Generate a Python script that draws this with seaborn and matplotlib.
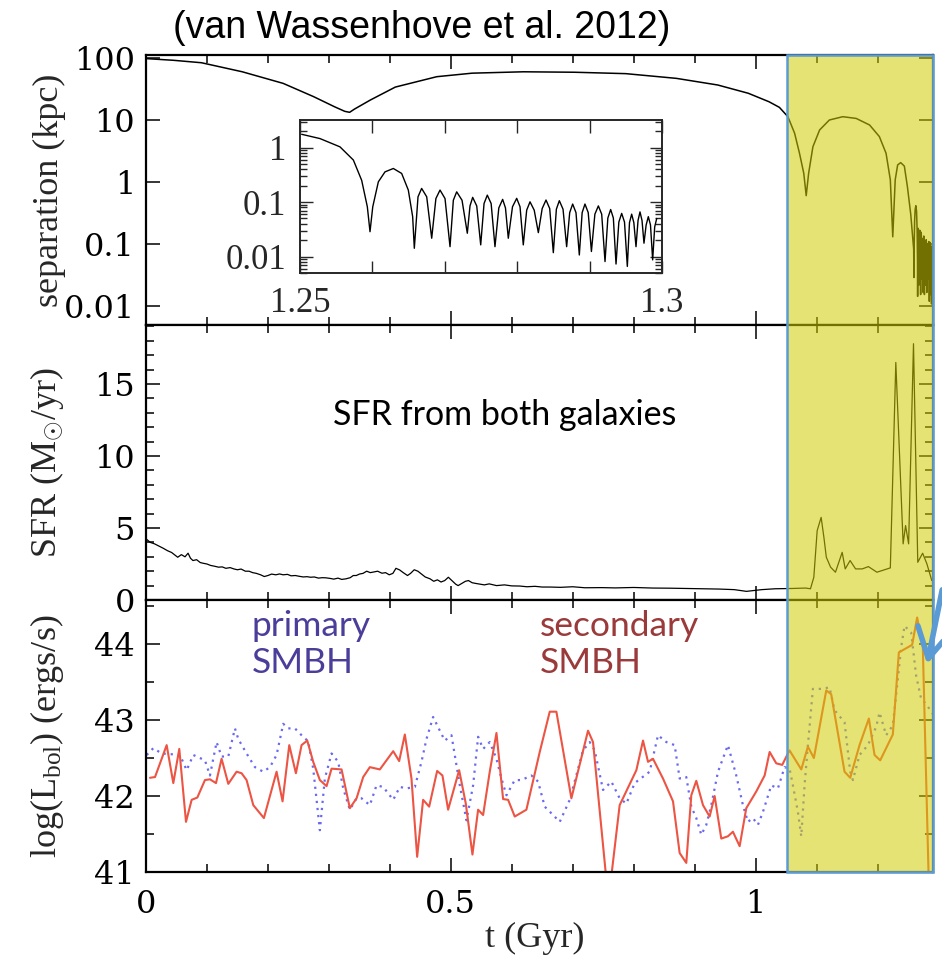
import numpy as np
import pandas as pd
import matplotlib
matplotlib.use("Agg")
import matplotlib.pyplot as plt
import seaborn as sns
from matplotlib.patches import Rectangle, FancyArrowPatch
from matplotlib.ticker import FixedLocator, NullFormatter, LogLocator, MultipleLocator, FixedFormatter

# ---------------- data ----------------
# separation of the two SMBHs, main panel (kpc), t in Gyr
sep_t = [0.000, 0.045, 0.091, 0.158, 0.225, 0.275, 0.309, 0.326, 0.334, 0.342, 0.368,
         0.409, 0.477, 0.535, 0.619, 0.703, 0.787, 0.870, 0.938, 0.988, 1.022, 1.039,
         1.053, 1.064, 1.072, 1.079, 1.083, 1.087, 1.094, 1.105, 1.121, 1.143, 1.165,
         1.187, 1.203, 1.214, 1.221, 1.225, 1.229, 1.233, 1.238, 1.244, 1.249, 1.2545]
sep_kpc = [98, 92, 84, 60, 39, 23.8, 16.4, 13.8, 13.3, 15.0, 21,
           34, 50, 57, 60, 59, 56, 47, 36.7, 27, 19.7, 16,
           11.3, 6.1, 2.9, 1.38, 0.6, 1.38, 3.7, 6.9, 10, 11.3, 10.6,
           8.3, 5.4, 2.9, 1.08, 0.13, 1.08, 1.88, 2.05, 1.8, 0.84, 0.3]

# inset: zoom on the last orbits (same quantity)
inset_t = [1.25023, 1.25276, 1.25552, 1.25737, 1.25852, 1.2593, 1.25967, 1.26005, 1.26082,
           1.26174, 1.26289, 1.26404, 1.26496, 1.26556, 1.26579, 1.26630, 1.26680, 1.26750,
           1.26819, 1.26877, 1.26934, 1.27003, 1.27072, 1.27118, 1.27164, 1.27238, 1.27311,
           1.27348, 1.27385, 1.27441, 1.27496, 1.27542, 1.27587, 1.27640, 1.27693, 1.27746,
           1.27799, 1.27838, 1.27877, 1.27935, 1.27993, 1.28039, 1.28084, 1.28131, 1.28177,
           1.28235, 1.28292, 1.28345, 1.28398, 1.28449, 1.28499, 1.28541, 1.28582, 1.28633,
           1.28683, 1.28725, 1.28766, 1.28812, 1.28858, 1.28897, 1.28936, 1.28981, 1.29025,
           1.29073, 1.29121, 1.29167, 1.29213, 1.29252, 1.29291, 1.29328, 1.29365, 1.29404,
           1.29443, 1.29482, 1.29521, 1.29551, 1.29581, 1.29611, 1.29641, 1.29669, 1.29696,
           1.29724, 1.29751, 1.29781, 1.29811, 1.29841, 1.29871, 1.29899, 1.29927]
inset_kpc = [1.75, 1.46, 1.03, 0.59, 0.25, 0.082, 0.0286, 0.082, 0.235,
             0.358, 0.413, 0.335, 0.166, 0.054, 0.0142, 0.125, 0.178, 0.125,
             0.0217, 0.116, 0.166, 0.116, 0.0152, 0.108, 0.154, 0.108, 0.0268,
             0.085, 0.122, 0.085, 0.0164, 0.094, 0.134, 0.094, 0.0152, 0.078,
             0.112, 0.078, 0.0217, 0.082, 0.117, 0.082, 0.0164, 0.071, 0.101,
             0.071, 0.0275, 0.076, 0.109, 0.076, 0.0118, 0.074, 0.106, 0.074,
             0.0152, 0.064, 0.092, 0.064, 0.0107, 0.064, 0.092, 0.064, 0.0124,
             0.060, 0.085, 0.060, 0.0081, 0.051, 0.073, 0.051, 0.0073, 0.043,
             0.062, 0.043, 0.0066, 0.042, 0.060, 0.042, 0.0152, 0.046, 0.066,
             0.046, 0.0176, 0.038, 0.054, 0.038, 0.0087, 0.035, 0.050]

# star formation rate from both galaxies (Msun/yr)
sfr_t = [0.000, 0.007, 0.014, 0.021, 0.028, 0.035, 0.042, 0.048, 0.052, 0.058, 0.064, 0.069,
         0.073, 0.077, 0.083, 0.089, 0.094, 0.100, 0.106, 0.112, 0.119, 0.125, 0.131, 0.138,
         0.144, 0.150, 0.156, 0.163, 0.169, 0.175, 0.181, 0.188, 0.194, 0.200, 0.206, 0.213,
         0.219, 0.225, 0.232, 0.238, 0.245, 0.251, 0.258, 0.264, 0.270, 0.276, 0.283, 0.289,
         0.295, 0.302, 0.308, 0.315, 0.321, 0.328, 0.335, 0.340, 0.345, 0.350, 0.356, 0.362,
         0.368, 0.374, 0.380, 0.387, 0.393, 0.399, 0.405, 0.410, 0.416, 0.422, 0.429, 0.434,
         0.440, 0.446, 0.452, 0.458, 0.466, 0.472, 0.478, 0.484, 0.490, 0.496, 0.503, 0.508,
         0.512, 0.518, 0.524, 0.529, 0.535, 0.541, 0.548, 0.555, 0.563, 0.575, 0.588, 0.600,
         0.613, 0.625, 0.638, 0.650, 0.663, 0.680, 0.700, 0.720, 0.747, 0.770, 0.800, 0.831,
         0.860, 0.890, 0.914, 0.940, 0.965, 0.985, 0.998, 1.010, 1.032, 1.060, 1.082, 1.090,
         1.0955, 1.101, 1.1075, 1.112, 1.116, 1.123, 1.131, 1.142, 1.147, 1.155, 1.164, 1.175,
         1.185, 1.199, 1.221, 1.230, 1.242, 1.246, 1.251, 1.259, 1.266, 1.274, 1.281, 1.289]
sfr_val = [4.25, 4.0, 3.9, 3.75, 3.6, 3.43, 3.3, 3.1, 2.97, 3.15, 3.0, 3.25,
           2.9, 2.74, 2.8, 2.6, 2.55, 2.5, 2.4, 2.35, 2.28, 2.3, 2.2, 2.25,
           2.16, 2.1, 2.15, 2.0, 2.0, 1.9, 1.85, 1.75, 1.63, 1.7, 1.8, 1.75,
           1.81, 1.75, 1.78, 1.68, 1.70, 1.65, 1.6, 1.62, 1.58, 1.6, 1.52, 1.55,
           1.54, 1.5, 1.45, 1.52, 1.43, 1.47, 1.55, 1.7, 1.70, 1.8, 1.85, 2.0,
           1.9, 1.95, 2.0, 1.86, 1.9, 1.75, 1.85, 2.2, 2.09, 1.9, 1.70, 1.85,
           2.1, 2.0, 1.8, 1.6, 1.47, 1.3, 1.4, 1.25, 1.35, 1.58, 1.3, 1.1,
           1.0, 1.15, 1.3, 1.35, 1.2, 1.15, 1.1, 1.05, 1.12, 1.0, 1.05, 0.98,
           0.97, 0.92, 0.95, 0.9, 0.90, 0.88, 0.92, 0.85, 0.86, 0.84, 0.87, 0.83,
           0.82, 0.8, 0.78, 0.76, 0.72, 0.6, 0.66, 0.72, 0.78, 0.8, 0.83, 0.78,
           1.58, 4.82, 5.74, 4.36, 2.97, 2.28, 1.93, 3.31, 2.16, 2.74, 2.16, 2.16,
           2.32, 1.93, 2.23, 16.5, 3.9, 5.17, 3.9, 17.8, 2.62, 3.25, 2.51, 1.35]

# log bolometric luminosity, secondary SMBH (solid red)
sec_t = [0.0066, 0.0148, 0.0339, 0.0448, 0.0546, 0.0656, 0.0749, 0.0842, 0.0967, 0.1049,
         0.1148, 0.1240, 0.1350, 0.1486, 0.1568, 0.1650, 0.1760, 0.1934, 0.2142, 0.2240,
         0.2350, 0.2459, 0.2552, 0.2645, 0.2743, 0.2852, 0.2962, 0.3044, 0.3208, 0.3344,
         0.3454, 0.3563, 0.3672, 0.3836, 0.4055, 0.4153, 0.4246, 0.4355, 0.4448, 0.4546,
         0.4645, 0.4776, 0.4863, 0.4956, 0.5137, 0.5246, 0.5355, 0.5448, 0.5530, 0.5639,
         0.5749, 0.5858, 0.5940, 0.6049, 0.6240, 0.6459, 0.6623, 0.6732, 0.6978, 0.7251,
         0.7333, 0.7552, 0.7634, 0.7770, 0.8044, 0.8153, 0.8235, 0.8317, 0.8481, 0.8645,
         0.8754, 0.8863, 0.8945, 0.9027, 0.9137, 0.9246, 0.9328, 0.9437, 0.9546, 0.9628,
         0.9738, 0.9847, 1.0011, 1.0148, 1.0230, 1.0339, 1.0437, 1.0530, 1.0557, 1.0749,
         1.0858, 1.0956, 1.1159, 1.1240, 1.1459, 1.1552, 1.1705, 1.1858, 1.1951, 1.2044,
         1.2251, 1.2350, 1.2568, 1.2650, 1.2743, 1.2852]
sec_L = [42.24, 42.25, 42.67, 42.17, 42.62, 41.66, 41.95, 41.98, 42.21, 42.22,
         42.17, 42.49, 42.16, 42.32, 42.30, 42.21, 41.88, 41.71, 42.32, 41.93,
         42.67, 42.30, 42.67, 42.73, 42.45, 42.21, 42.13, 42.36, 42.35, 41.84,
         41.97, 42.25, 42.38, 42.35, 42.59, 42.46, 42.81, 42.23, 41.20, 41.95,
         41.86, 42.33, 42.27, 41.82, 42.34, 41.90, 41.23, 41.82, 41.75, 42.32,
         42.83, 41.96, 41.95, 41.73, 41.82, 42.58, 43.11, 43.11, 41.97, 42.86,
         42.71, 40.90, 40.95, 41.88, 42.34, 42.73, 42.45, 42.49, 42.23, 41.93,
         41.25, 41.12, 42.01, 42.20, 41.88, 41.73, 42.00, 41.44, 41.47, 41.53,
         41.34, 41.84, 42.06, 42.27, 42.58, 42.43, 42.41, 42.56, 42.60, 42.35,
         42.65, 42.50, 43.39, 43.34, 42.32, 42.24, 42.67, 43.02, 42.54, 42.47,
         42.81, 43.89, 43.99, 44.35, 43.96, 40.50]

# log bolometric luminosity, primary SMBH (dotted blue)
pri_t = [0.0011, 0.0120, 0.0257, 0.0421, 0.0557, 0.0667, 0.0776, 0.0885, 0.0967, 0.1049,
         0.1158, 0.1240, 0.1350, 0.1459, 0.1514, 0.1650, 0.1787, 0.1923, 0.2033, 0.2142,
         0.2251, 0.2333, 0.2443, 0.2552, 0.2661, 0.2743, 0.2852, 0.2934, 0.3044, 0.3153,
         0.3235, 0.3344, 0.3454, 0.3536, 0.3672, 0.3781, 0.3891, 0.4055, 0.4164, 0.4273,
         0.4410, 0.4519, 0.4601, 0.4710, 0.4820, 0.4902, 0.5011, 0.5148, 0.5257, 0.5366,
         0.5448, 0.5530, 0.5639, 0.5749, 0.5831, 0.5913, 0.6049, 0.6158, 0.6322, 0.6432,
         0.6541, 0.6678, 0.6787, 0.6951, 0.7169, 0.7279, 0.7361, 0.7497, 0.7634, 0.7770,
         0.7880, 0.8016, 0.8262, 0.8399, 0.8536, 0.8672, 0.8754, 0.8863, 0.8945, 0.9027,
         0.9109, 0.9191, 0.9273, 0.9383, 0.9546, 0.9683, 0.9792, 0.9874, 0.9956, 1.0038,
         1.0120, 1.0257, 1.0366, 1.0475, 1.0557, 1.0612, 1.0694, 1.0749, 1.0803, 1.0858,
         1.0940, 1.1077, 1.1213, 1.1295, 1.1459, 1.1552, 1.1596, 1.1705, 1.1842, 1.1978,
         1.2033, 1.2142, 1.2251, 1.2333, 1.2388, 1.2443, 1.2552, 1.2634, 1.2716, 1.2798,
         1.2907]
pri_L = [42.54, 42.63, 42.56, 42.55, 42.54, 42.34, 42.54, 42.50, 42.47, 42.27,
         42.71, 42.52, 42.52, 42.89, 42.75, 42.56, 42.38, 42.32, 42.38, 42.54,
         42.95, 42.89, 42.89, 42.80, 42.72, 42.36, 41.55, 42.23, 42.56, 42.45,
         42.10, 41.82, 41.97, 41.97, 41.88, 42.14, 42.12, 41.95, 42.12, 42.10,
         42.12, 42.45, 42.75, 43.04, 42.86, 42.73, 42.80, 42.14, 41.68, 42.14,
         42.78, 42.62, 42.71, 42.49, 42.23, 42.01, 42.21, 42.21, 42.27, 42.19,
         41.86, 41.75, 41.66, 41.95, 42.60, 42.71, 42.60, 42.08, 42.19, 41.97,
         41.90, 42.17, 42.32, 42.80, 42.71, 42.67, 42.23, 42.25, 41.86, 41.71,
         41.49, 41.62, 41.88, 42.32, 42.67, 42.27, 41.88, 41.66, 41.71, 41.62,
         41.79, 42.14, 42.10, 42.38, 42.36, 42.14, 41.79, 41.47, 42.14, 42.67,
         43.41, 43.41, 43.43, 43.13, 42.97, 42.32, 42.21, 42.54, 42.67, 42.91,
         43.10, 42.80, 42.93, 43.54, 43.96, 44.24, 44.15, 43.58, 43.28, 43.21,
         43.08]

merger_start = 1.052          # start of the highlighted final-merger phase
x_major = [0, 0.5, 1]
x_major_labels = ["0", "0.5", "1"]
sep_ticks = [0.01, 0.1, 1, 10, 100]
sep_labels = ["0.01", "0.1", "1", "10", "100"]
sfr_ticks = [0, 5, 10, 15]
lum_ticks = [41, 42, 43, 44]
inset_xticks = [1.25, 1.3]
inset_xlabels = ["1.25", "1.3"]
inset_yticks = [0.01, 0.1, 1]
inset_ylabels = ["0.01", "0.1", "1"]

# ---------------- style ----------------
sns.set_style("ticks")
plt.rcParams["font.family"] = ["DejaVu Serif"]
plt.rcParams["mathtext.fontset"] = "custom"
plt.rcParams["mathtext.rm"] = "Liberation Serif"
plt.rcParams["mathtext.it"] = "Liberation Serif:italic"

fig = plt.figure(figsize=(9.42, 9.65), dpi=100)
W, H = 942.0, 965.0
left = 146 / W
width = 787 / W
ax1 = fig.add_axes([left, 1 - 325 / H, width, 270 / H])
ax2 = fig.add_axes([left, 1 - 600 / H, width, 275 / H], sharex=ax1)
ax3 = fig.add_axes([left, 1 - 872 / H, width, 272 / H], sharex=ax1)

line_kw = dict(estimator=None, sort=False, legend=False)

# separation (main) + final orbits
main_df = pd.DataFrame({"t": sep_t + [v for v in inset_t if v >= 1.2593],
                        "sep": sep_kpc + [s for v, s in zip(inset_t, inset_kpc) if v >= 1.2593]})
sns.lineplot(data=main_df, x="t", y="sep", ax=ax1, color="black", lw=1.1, **line_kw)
ax1.set_yscale("log")
ax1.set_ylim(0.0049, 112)

# SFR
sfr_df = pd.DataFrame({"t": sfr_t, "sfr": sfr_val})
sns.lineplot(data=sfr_df, x="t", y="sfr", ax=ax2, color="black", lw=0.9, **line_kw)
ax2.set_ylim(0, 19.1)

# luminosities
pri_df = pd.DataFrame({"t": pri_t, "L": pri_L})
sec_df = pd.DataFrame({"t": sec_t, "L": sec_L})
sns.lineplot(data=pri_df, x="t", y="L", ax=ax3, color="#6a6af0", lw=1.6, linestyle=(0, (1, 2.2)), **line_kw)
sns.lineplot(data=sec_df, x="t", y="L", ax=ax3, color="#ec5444", lw=1.5, **line_kw)
ax3.set_ylim(41.0, 44.58)
ax3.set_xlim(0, 1.291)

for ax in (ax1, ax2, ax3):
    ax.tick_params(which="both", direction="in", top=True, right=True, width=1.1, colors="black")
    ax.tick_params(which="major", length=10)
    ax.tick_params(which="minor", length=5.5)
    ax.xaxis.set_major_locator(FixedLocator(x_major))
    ax.xaxis.set_minor_locator(MultipleLocator(0.1))
    for sp in ax.spines.values():
        sp.set_linewidth(1.6)
        sp.set_color("black")
    ax.set_xlabel("")
    ax.set_ylabel("")

ax1.yaxis.set_major_locator(FixedLocator(sep_ticks))
ax1.yaxis.set_major_formatter(FixedFormatter(sep_labels))
ax1.yaxis.set_minor_locator(LogLocator(base=10, subs=np.arange(2, 10)))
ax1.yaxis.set_minor_formatter(NullFormatter())
ax2.yaxis.set_major_locator(FixedLocator(sfr_ticks))
ax2.yaxis.set_minor_locator(MultipleLocator(1))
ax3.yaxis.set_major_locator(FixedLocator(lum_ticks))
ax3.yaxis.set_minor_locator(MultipleLocator(0.5))
ax3.xaxis.set_major_formatter(FixedFormatter(x_major_labels))
plt.setp(ax1.get_xticklabels(), visible=False)
plt.setp(ax2.get_xticklabels(), visible=False)

for ax in (ax1, ax2, ax3):
    ax.tick_params(axis="y", which="major", labelsize=23, pad=8)
    ax.tick_params(axis="x", which="major", labelsize=23, pad=12)
    for lab in ax.get_yticklabels() + ax.get_xticklabels():
        lab.set_fontfamily("DejaVu Serif")

label_font = dict(family="Liberation Serif", size=26)
ax1.set_ylabel("separation (kpc)", **label_font)
ax2.set_ylabel(r"SFR (M$_{\odot}$/yr)", **label_font)
ax3.set_ylabel(r"log(L$_{\rm bol}$) (ergs/s)", **label_font)
for ax in (ax1, ax2, ax3):
    ax.yaxis.set_label_coords(-0.102, 0.5)
ax3.set_xlabel("t (Gyr)", **label_font)
ax3.xaxis.set_label_coords(0.494, -0.185)

# inset
axi = fig.add_axes([300 / W, 1 - 273 / H, 362 / W, 153 / H])
in_df = pd.DataFrame({"t": inset_t, "sep": inset_kpc})
sns.lineplot(data=in_df, x="t", y="sep", ax=axi, color="black", lw=1.0, **line_kw)
axi.set_yscale("log")
axi.set_xlim(1.25, 1.3)
axi.set_ylim(0.005, 3.2)
axi.set_xlabel("")
axi.set_ylabel("")
axi.xaxis.set_major_locator(FixedLocator(inset_xticks))
axi.xaxis.set_major_formatter(FixedFormatter(inset_xlabels))
axi.xaxis.set_minor_locator(MultipleLocator(0.01))
axi.yaxis.set_major_locator(FixedLocator(inset_yticks))
axi.yaxis.set_major_formatter(FixedFormatter(inset_ylabels))
axi.yaxis.set_minor_locator(LogLocator(base=10, subs=np.arange(2, 10)))
axi.yaxis.set_minor_formatter(NullFormatter())
axi.tick_params(which="both", direction="in", top=True, right=True, width=1.0)
axi.tick_params(which="major", length=9, labelsize=25, pad=10)
axi.tick_params(which="minor", length=5)
axi.tick_params(axis="x", which="minor", length=9)
for lab in axi.get_xticklabels() + axi.get_yticklabels():
    lab.set_fontfamily("Liberation Serif")
for sp in axi.spines.values():
    sp.set_linewidth(1.4)

# highlighted final-merger phase (figure-level so it spans the three panels)
fig.canvas.draw()
inv = fig.transFigure.inverted()
x0 = inv.transform(ax3.transData.transform((merger_start, 42)))[0]
x1 = inv.transform(ax3.transAxes.transform((1, 0)))[0]
y0 = inv.transform(ax3.transAxes.transform((0, 0)))[1]
y1 = inv.transform(ax1.transAxes.transform((0, 1)))[1]
rect = Rectangle((x0, y0), x1 - x0, y1 - y0, transform=fig.transFigure,
                 facecolor=(209 / 255, 205 / 255, 0.0, 0.55), edgecolor="#5b9bd5",
                 linewidth=1.8, zorder=3)
fig.patches.append(rect)

arrow = FancyArrowPatch((1.307, 44.75), (1.2805, 43.70), transform=ax3.transData,
                        arrowstyle="->,head_length=0.9,head_width=0.5", color="#5b9bd5",
                        lw=4, zorder=4, clip_on=False, mutation_scale=24,
                        capstyle="round", joinstyle="round")
fig.add_artist(arrow)

# annotations
fig.text(0.448, 0.971, "(van Wassenhove et al. 2012)", ha="center", va="center",
         fontsize=27, family="Liberation Sans", color="black")
fig.text(0.536, 0.570, "SFR from both galaxies", ha="center", va="center",
         fontsize=24.5, family="Lato", color="black")
fig.text(252 / W, 0.332, "primary\nSMBH", ha="left", va="center", fontsize=25.5,
         family="Lato", color="#4a3e9a", linespacing=1.2)
fig.text(540 / W, 0.332, "secondary\nSMBH", ha="left", va="center", fontsize=25.5,
         family="Lato", color="#9b3a3a", linespacing=1.2)

fig.savefig("out.png", dpi=100)
